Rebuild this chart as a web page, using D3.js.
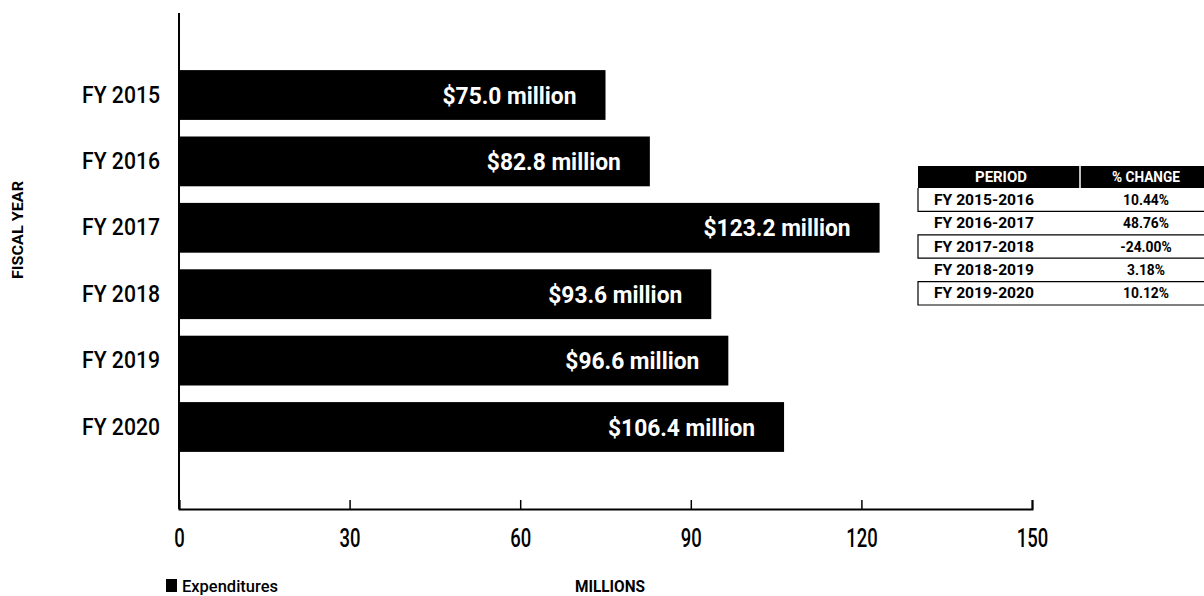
<!DOCTYPE html>
<html>
<head>
<meta charset="utf-8">
<script src="https://cdn.jsdelivr.net/npm/d3@7"></script>
<style>
  html, body { margin: 0; padding: 0; background: #fff; }
  svg { display: block; }
</style>
</head>
<body>
<svg id="chart" width="1204" height="596"></svg>
<script>
// Annual expenditures, in millions of dollars
const categories = ["FY 2015", "FY 2016", "FY 2017", "FY 2018", "FY 2019", "FY 2020"];
const expenditures = [75.0, 82.8, 123.2, 93.6, 96.6, 106.4];
const xTicks = [0, 30, 60, 90, 120, 150];

// Year-over-year change table
const periods = ["FY 2015-2016", "FY 2016-2017", "FY 2017-2018", "FY 2018-2019", "FY 2019-2020"];
const pctChange = ["10.44%", "48.76%", "-24.00%", "3.18%", "10.12%"];

const svg = d3.select("#chart");
const FONT = "Roboto, 'Liberation Sans', sans-serif";

// Narrow a group of labels so its reference string takes the given width,
// giving the condensed look of the printed typeface.
function condense(sel, refWidth) {
  const nodes = sel.nodes();
  if (!nodes.length) return;
  const f = refWidth / nodes[0].getComputedTextLength();
  nodes.forEach(n => {
    const w = n.getComputedTextLength();
    n.setAttribute("textLength", (w * f).toFixed(2));
    n.setAttribute("lengthAdjust", "spacingAndGlyphs");
  });
}

const x = d3.scaleLinear().domain([0, 150]).range([179, 1032]);
const y = d3.scaleBand().domain(categories).range([13, 509]).paddingInner(0.25).paddingOuter(0.86);

// bars
const rows = categories.map((c, i) => ({ cat: c, val: expenditures[i] }));
svg.append("g").selectAll("rect").data(rows).join("rect")
  .attr("x", x(0))
  .attr("y", d => y(d.cat))
  .attr("width", d => x(d.val) - x(0))
  .attr("height", y.bandwidth())
  .attr("fill", "#000");

// value labels inside the bars
const valLabels = svg.append("g").selectAll("text").data(rows).join("text")
  .attr("x", d => x(d.val) - 29)
  .attr("y", d => y(d.cat) + y.bandwidth() / 2)
  .attr("dy", "0.36em")
  .attr("text-anchor", "end")
  .attr("fill", "#fff")
  .attr("font-family", FONT)
  .attr("font-weight", 700)
  .attr("font-size", 24)
  .text(d => "$" + d.val.toFixed(1) + " million");
condense(valLabels, 134);

// x axis with ticks pointing up into the plot
const xAxis = d3.axisBottom(x).tickValues(xTicks).tickSize(-9).tickSizeOuter(-9).tickPadding(20).tickFormat(d3.format("d"));
const gx = svg.append("g").attr("transform", "translate(0,509)").call(xAxis);
gx.select(".domain").attr("stroke", "#000").attr("stroke-width", 2);
gx.selectAll(".tick line").attr("stroke", "#000").attr("stroke-width", 1.5);
const xLabels = gx.selectAll(".tick text").attr("font-family", FONT).attr("font-weight", 500)
  .attr("font-size", 25).attr("fill", "#000");
condense(xLabels, 10.5);

// y axis: plain line with category labels
const yAxis = d3.axisLeft(y).tickSize(0).tickPadding(19);
const gy = svg.append("g").attr("transform", "translate(179,0)").call(yAxis);
gy.select(".domain").remove();
gy.append("line").attr("x1", 0).attr("x2", 0).attr("y1", 13).attr("y2", 509)
  .attr("stroke", "#000").attr("stroke-width", 2);
const yLabels = gy.selectAll(".tick text").attr("font-family", FONT).attr("font-weight", 500)
  .attr("font-size", 24).attr("fill", "#000");
condense(yLabels, 78);

// axis titles
const yTitle = svg.append("text")
  .attr("transform", "translate(23,230) rotate(-90)")
  .attr("text-anchor", "middle")
  .attr("font-family", FONT).attr("font-weight", 700).attr("font-size", 15)
  .text("FISCAL YEAR");
condense(yTitle, 98);

const xTitle = svg.append("text")
  .attr("x", 610).attr("y", 592)
  .attr("text-anchor", "middle")
  .attr("font-family", FONT).attr("font-weight", 700).attr("font-size", 17)
  .text("MILLIONS");
condense(xTitle, 70);

// legend
svg.append("rect").attr("x", 166).attr("y", 579).attr("width", 11).attr("height", 13).attr("fill", "#000");
const legText = svg.append("text")
  .attr("x", 182).attr("y", 592)
  .attr("font-family", FONT).attr("font-weight", 500).attr("font-size", 17)
  .text("Expenditures");
condense(legText, 96);

// change table
const tbl = svg.append("g");
const tLeft = 918, tRight = 1204, tSplit = 1080, headTop = 166, headH = 22, rowH = 23.4;
tbl.append("rect").attr("x", tLeft).attr("y", headTop).attr("width", tRight - tLeft).attr("height", headH).attr("fill", "#000");
tbl.append("line").attr("x1", tSplit).attr("x2", tSplit).attr("y1", headTop).attr("y2", headTop + headH)
  .attr("stroke", "#fff").attr("stroke-width", 1.5);
const hdr1 = tbl.append("text").attr("x", (tLeft + tSplit) / 2 + 2).attr("y", headTop + headH / 2).attr("dy", "0.36em")
  .attr("text-anchor", "middle").attr("fill", "#fff")
  .attr("font-family", FONT).attr("font-weight", 700).attr("font-size", 15).text("PERIOD");
condense(hdr1, 52);
const hdr2 = tbl.append("text").attr("x", (tSplit + tRight) / 2 + 4).attr("y", headTop + headH / 2).attr("dy", "0.36em")
  .attr("text-anchor", "middle").attr("fill", "#fff")
  .attr("font-family", FONT).attr("font-weight", 700).attr("font-size", 15).text("% CHANGE");
condense(hdr2, 68);

const tRows = periods.map((p, i) => ({ p, c: pctChange[i], i }));
const tr = tbl.selectAll("g.row").data(tRows).join("g").attr("class", "row")
  .attr("transform", d => `translate(0,${headTop + headH + d.i * rowH})`);
tr.filter(d => d.i % 2 === 0).append("path")
  .attr("d", d => d.i === 0
    ? `M${tLeft},0V${rowH}H${tRight}`
    : `M${tRight},0H${tLeft}V${rowH}H${tRight}`)
  .attr("fill", "none").attr("stroke", "#000").attr("stroke-width", 1.2);
const cell1 = tr.append("text").attr("x", tLeft + 16).attr("y", rowH / 2).attr("dy", "0.36em")
  .attr("font-family", FONT).attr("font-weight", 700).attr("font-size", 14).text(d => d.p);
condense(cell1, 100);
const cell2 = tr.append("text").attr("x", (tSplit + tRight) / 2 + 4).attr("y", rowH / 2).attr("dy", "0.36em")
  .attr("text-anchor", "middle")
  .attr("font-family", FONT).attr("font-weight", 700).attr("font-size", 14).text(d => d.c);
condense(cell2, 46);
</script>
</body>
</html>
